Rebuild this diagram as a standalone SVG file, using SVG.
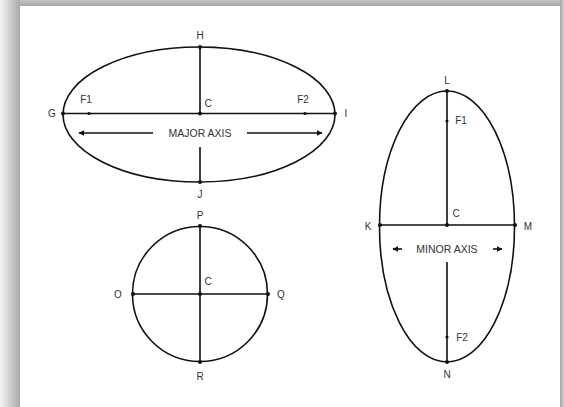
<svg xmlns="http://www.w3.org/2000/svg" width="564" height="407" viewBox="0 0 564 407">
<defs>
<linearGradient id="gl" x1="0" y1="0" x2="1" y2="0"><stop offset="0" stop-color="#f4f4f4"/><stop offset="1" stop-color="#a9a9a9"/></linearGradient>
<linearGradient id="gt" x1="0" y1="0" x2="0" y2="1"><stop offset="0" stop-color="#c4c4c4"/><stop offset="1" stop-color="#a6a6a6"/></linearGradient>
<linearGradient id="gr" x1="0" y1="0" x2="1" y2="0"><stop offset="0" stop-color="#a8a8a8"/><stop offset="1" stop-color="#d0d0d0"/></linearGradient>
<marker id="ah" viewBox="0 0 10 10" refX="9" refY="5" markerWidth="6" markerHeight="6" orient="auto-start-reverse" markerUnits="userSpaceOnUse"><path d="M0,0 L10,5 L0,10 z" fill="#111"/></marker>
</defs>
<style>
.s{fill:none;stroke:#111;stroke-width:1.6}
.l{stroke:#111;stroke-width:1.6}
.d{fill:#111}
text{font-family:"Liberation Sans",Arial,sans-serif;font-size:10px;fill:#333;text-anchor:middle;dominant-baseline:central}
.ax{font-size:10.5px}
</style>
<rect x="0" y="0" width="564" height="407" fill="#ffffff"/>
<rect x="0" y="0" width="20" height="407" fill="url(#gl)"/>
<rect x="20" y="0" width="544" height="6" fill="url(#gt)"/>
<rect x="560" y="0" width="4" height="407" fill="url(#gr)"/>
<rect x="20" y="6" width="540" height="401" fill="#ffffff"/>

<g id="ellipse-major">
<ellipse class="s" cx="199" cy="114.5" rx="136" ry="67.5"/>
<circle class="d" cx="63" cy="113.5" r="2"/><circle class="d" cx="335" cy="113.5" r="2"/>
<circle class="d" cx="200" cy="47" r="2"/><circle class="d" cx="200" cy="182" r="2"/>
<circle class="d" cx="200" cy="113.5" r="2"/>
<circle class="d" cx="89" cy="113.5" r="1.6"/><circle class="d" cx="305" cy="113.5" r="1.6"/>
<text x="200" y="35">H</text>
<text x="200" y="194">J</text>
<text x="52" y="113.5">G</text>
<text x="346" y="113.5">I</text>
<text x="208" y="103">C</text>
<text x="86" y="99">F1</text>
<text x="303" y="99">F2</text>
<text class="ax" x="200" y="133">MAJOR AXIS</text>
</g>

<g id="circle">
<circle class="s" cx="200" cy="294" r="67.5"/>
<circle class="d" cx="200" cy="226" r="2"/><circle class="d" cx="200" cy="362" r="2"/>
<circle class="d" cx="133" cy="294" r="2"/><circle class="d" cx="268" cy="294" r="2"/>
<circle class="d" cx="200" cy="294" r="2"/>
<text x="200" y="215">P</text>
<text x="200" y="376">R</text>
<text x="118" y="294">O</text>
<text x="281" y="294">Q</text>
<text x="208" y="281">C</text>
</g>

<g id="ellipse-minor">
<ellipse class="s" cx="447" cy="226.5" rx="67.5" ry="135.5"/>
<circle class="d" cx="447" cy="91" r="2"/><circle class="d" cx="447" cy="362" r="2"/>
<circle class="d" cx="380" cy="225" r="2"/><circle class="d" cx="515" cy="225" r="2"/>
<circle class="d" cx="447" cy="225" r="2"/>
<circle class="d" cx="447" cy="121" r="1.6"/><circle class="d" cx="447" cy="337" r="1.6"/>
<text x="447" y="80">L</text>
<text x="447" y="374">N</text>
<text x="368" y="226">K</text>
<text x="528" y="226">M</text>
<text x="456" y="213">C</text>
<text x="461" y="120">F1</text>
<text x="462" y="337">F2</text>
<text class="ax" x="447" y="249">MINOR AXIS</text>
</g>

<g id="connectors">
<line class="l" x1="63" y1="113.5" x2="335" y2="113.5"/>
<line class="l" x1="200" y1="47" x2="200" y2="113.5"/>
<line class="l" x1="200" y1="147" x2="200" y2="182"/>
<line class="l" x1="153" y1="133" x2="79" y2="133" marker-end="url(#ah)"/>
<line class="l" x1="247" y1="133" x2="322" y2="133" marker-end="url(#ah)"/>
<line class="l" x1="133" y1="294" x2="268" y2="294"/>
<line class="l" x1="200" y1="226" x2="200" y2="362"/>
<line class="l" x1="380" y1="225" x2="515" y2="225"/>
<line class="l" x1="447" y1="91" x2="447" y2="225"/>
<line class="l" x1="447" y1="262" x2="447" y2="362"/>
<line class="l" x1="402" y1="249" x2="393" y2="249" marker-end="url(#ah)"/>
<line class="l" x1="493" y1="249" x2="502" y2="249" marker-end="url(#ah)"/>
</g>
</svg>
